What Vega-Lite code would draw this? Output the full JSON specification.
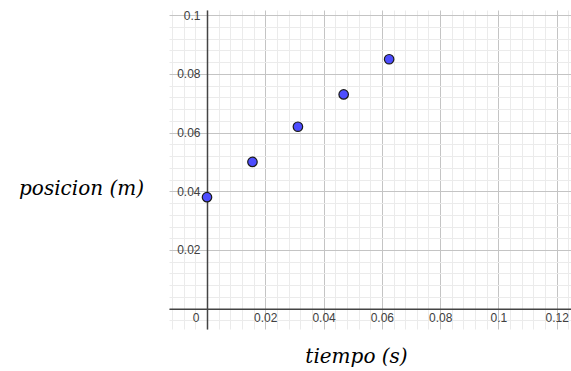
{
  "$schema": "https://vega.github.io/schema/vega-lite/v6.json",
  "width": 402,
  "height": 319,
  "autosize": {"type": "none"},
  "padding": {"left": 169, "top": 10, "right": 0, "bottom": 42},
  "background": "white",
  "config": {"view": {"stroke": null}},
  "data": {
    "values": [
      {"tiempo": 0.0, "posicion": 0.038},
      {"tiempo": 0.0156, "posicion": 0.050},
      {"tiempo": 0.0312, "posicion": 0.062},
      {"tiempo": 0.0469, "posicion": 0.073},
      {"tiempo": 0.0625, "posicion": 0.085}
    ]
  },
  "mark": {"type": "point", "filled": true, "shape": "circle", "size": 90, "fill": "#4d4dff", "stroke": "#1a1a1a", "strokeWidth": 1.2, "opacity": 1},
  "encoding": {
    "x": {
      "field": "tiempo",
      "type": "quantitative",
      "scale": {"domain": [-0.01304, 0.12491], "nice": false, "zero": false},
      "axis": {
        "orient": "bottom",
        "offset": -20.3,
        "values": [-0.012, -0.008, -0.004, 0, 0.004, 0.008, 0.012, 0.016, 0.02, 0.024, 0.028, 0.032, 0.036, 0.04, 0.044, 0.048, 0.052, 0.056, 0.06, 0.064, 0.068, 0.072, 0.076, 0.08, 0.084, 0.088, 0.092, 0.096, 0.1, 0.104, 0.108, 0.112, 0.116, 0.12, 0.124],
        "grid": true,
        "gridColor": {"condition": {"test": "abs(datum.value*50 - round(datum.value*50)) < 0.000001", "value": "#c4c4c4"}, "value": "#ebebeb"},
        "gridWidth": 1,
        "ticks": false,
        "domain": true,
        "domainColor": "#444444",
        "domainWidth": 1.5,
        "labelExpr": "abs(datum.value*50 - round(datum.value*50)) < 0.000001 ? format(datum.value, '~r') : ''",
        "labelFont": "Liberation Sans",
        "labelFontSize": 12,
        "labelColor": "#404040",
        "labelPadding": 4,
        "labelFlush": false,
        "labelOverlap": false,
        "labelOffset": {"condition": {"test": "datum.value === 0", "value": -11.5}, "value": 0},
        "title": "tiempo (s)",
        "titleFont": "DejaVu Serif",
        "titleFontStyle": "italic",
        "titleFontWeight": "normal",
        "titleFontSize": 20,
        "titleColor": "#000000",
        "titleX": 187,
        "titleY": 48,
        "titleAlign": "center",
        "titleBaseline": "middle"
      }
    },
    "y": {
      "field": "posicion",
      "type": "quantitative",
      "scale": {"domain": [-0.00692, 0.10177], "nice": false, "zero": false},
      "axis": {
        "orient": "left",
        "offset": -38,
        "values": [-0.004, 0, 0.004, 0.008, 0.012, 0.016, 0.02, 0.024, 0.028, 0.032, 0.036, 0.04, 0.044, 0.048, 0.052, 0.056, 0.06, 0.064, 0.068, 0.072, 0.076, 0.08, 0.084, 0.088, 0.092, 0.096, 0.1],
        "grid": true,
        "gridColor": {"condition": {"test": "abs(datum.value*50 - round(datum.value*50)) < 0.000001", "value": "#c4c4c4"}, "value": "#ebebeb"},
        "gridWidth": 1,
        "ticks": false,
        "domain": true,
        "domainColor": "#444444",
        "domainWidth": 1.5,
        "labelExpr": "abs(datum.value*50 - round(datum.value*50)) < 0.000001 && datum.value !== 0 ? format(datum.value, '~r') : ''",
        "labelFont": "Liberation Sans",
        "labelFontSize": 12,
        "labelColor": "#404040",
        "labelPadding": 7,
        "labelFlush": false,
        "labelOverlap": false,
        "title": "posicion (m)",
        "titleFont": "DejaVu Serif",
        "titleFontStyle": "italic",
        "titleFontWeight": "normal",
        "titleFontSize": 20,
        "titleColor": "#000000",
        "titleAngle": 0,
        "titleX": -126,
        "titleY": 178,
        "titleAlign": "center",
        "titleBaseline": "middle"
      }
    }
  }
}
